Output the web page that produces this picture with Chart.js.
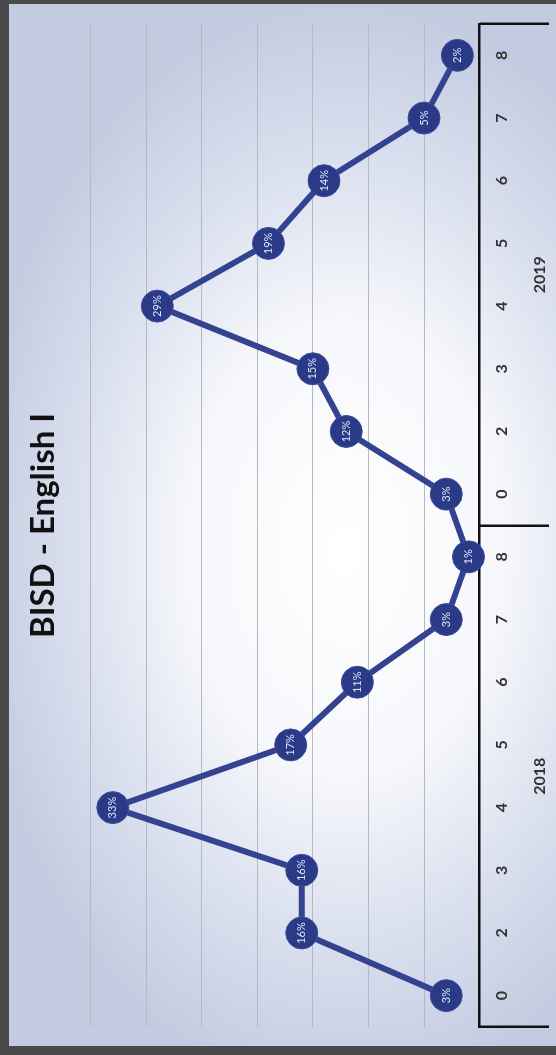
<!DOCTYPE html>
<html>
<head>
<meta charset="utf-8">
<script src="https://cdn.jsdelivr.net/npm/chart.js@4.4.1/dist/chart.umd.min.js"></script>
<style>
  html, body { margin: 0; padding: 0; }
  body {
    width: 556px; height: 1055px; overflow: hidden; position: relative;
    background: radial-gradient(ellipse 68% 52% at 62% 52%, #ffffff 0%, #f6f7fb 42%, #d9dfee 72%, #c3cbe0 100%);
  }
  #frame {
    position: absolute; left: 0; top: 0; width: 556px; height: 1055px; box-sizing: border-box;
    border-left: 9px solid #4a4a4a; border-top: 4px solid #4a4a4a; border-bottom: 9px solid #4a4a4a;
    z-index: 2; pointer-events: none;
  }
  /* chart is drawn landscape, then turned a quarter counter-clockwise like the scan */
  #wrap {
    position: absolute; left: 0; top: 0; width: 1055px; height: 556px;
    transform-origin: 0 0; transform: translate(0, 1055px) rotate(-90deg);
  }
</style>
</head>
<body>
<div id="frame"></div>
<div id="wrap"><canvas id="chart" width="1055" height="556"></canvas></div>
<script>
const categories = ["0", "2", "3", "4", "5", "6", "7", "8", "0", "2", "3", "4", "5", "6", "7", "8"];
const years = ["2018", "2019"];
const values2018 = [3, 16, 16, 33, 17, 11, 3, 1];
const values2019 = [3, 12, 15, 29, 19, 14, 5, 2];
const percentValues = values2018.concat(values2019);
const yMax = 35;
const yStep = 5;

const pctLabels = {
  id: "pctLabels",
  afterDatasetsDraw(chart) {
    const ctx = chart.ctx;
    const meta = chart.getDatasetMeta(0);
    ctx.save();
    ctx.fillStyle = "#dfe6ff";
    ctx.font = "11px Lato";
    ctx.textAlign = "center";
    ctx.textBaseline = "middle";
    meta.data.forEach((pt, i) => ctx.fillText(percentValues[i] + "%", pt.x, pt.y));
    ctx.restore();
  }
};

new Chart(document.getElementById("chart"), {
  type: "line",
  data: {
    labels: categories,
    datasets: [{
      data: percentValues,
      xAxisID: "x",
      borderColor: "#34438f",
      borderWidth: 6,
      pointRadius: 16,
      pointBackgroundColor: "#2b3a86",
      pointBorderColor: "#3d4d9c",
      pointBorderWidth: 1,
      tension: 0,
      clip: false
    }]
  },
  options: {
    responsive: false,
    animation: false,
    layout: { padding: { top: 14, left: 28, right: 24, bottom: 2 } },
    plugins: {
      legend: { display: false },
      tooltip: { enabled: false },
      title: {
        display: true,
        text: "BISD - English I",
        color: "#111",
        font: { family: "Lato", size: 33, weight: "bold" },
        padding: { top: 10, bottom: 27 }
      }
    },
    scales: {
      x: {
        axis: "x", type: "category", position: "bottom", weight: 0, offset: true,
        grid: { display: false },
        border: { display: true, color: "#111", width: 2.5 },
        ticks: { color: "#333", padding: 5, font: { family: "Lato", size: 16, weight: "bold" } }
      },
      x2: {
        axis: "x", type: "category", labels: years, position: "bottom", weight: 1, offset: true,
        grid: { display: false },
        border: { display: false },
        ticks: { color: "#333", padding: 5, font: { family: "Lato", size: 16, weight: "bold" } }
      },
      xSep: {
        axis: "x", type: "category", position: { y: 0 }, offset: true,
        grid: {
          offset: true, drawOnChartArea: false, tickLength: 69, lineWidth: 2.5,
          color: (c) => (c.index === undefined || c.index % 8 === 0) ? "#111" : "rgba(0,0,0,0)"
        },
        border: { display: false },
        ticks: { display: false }
      },
      y: {
        min: 0, max: yMax,
        ticks: { display: false, stepSize: yStep },
        grid: { color: "#b4b8c2", lineWidth: 1, drawTicks: false },
        border: { display: false }
      }
    }
  },
  plugins: [pctLabels]
});
</script>
</body>
</html>
